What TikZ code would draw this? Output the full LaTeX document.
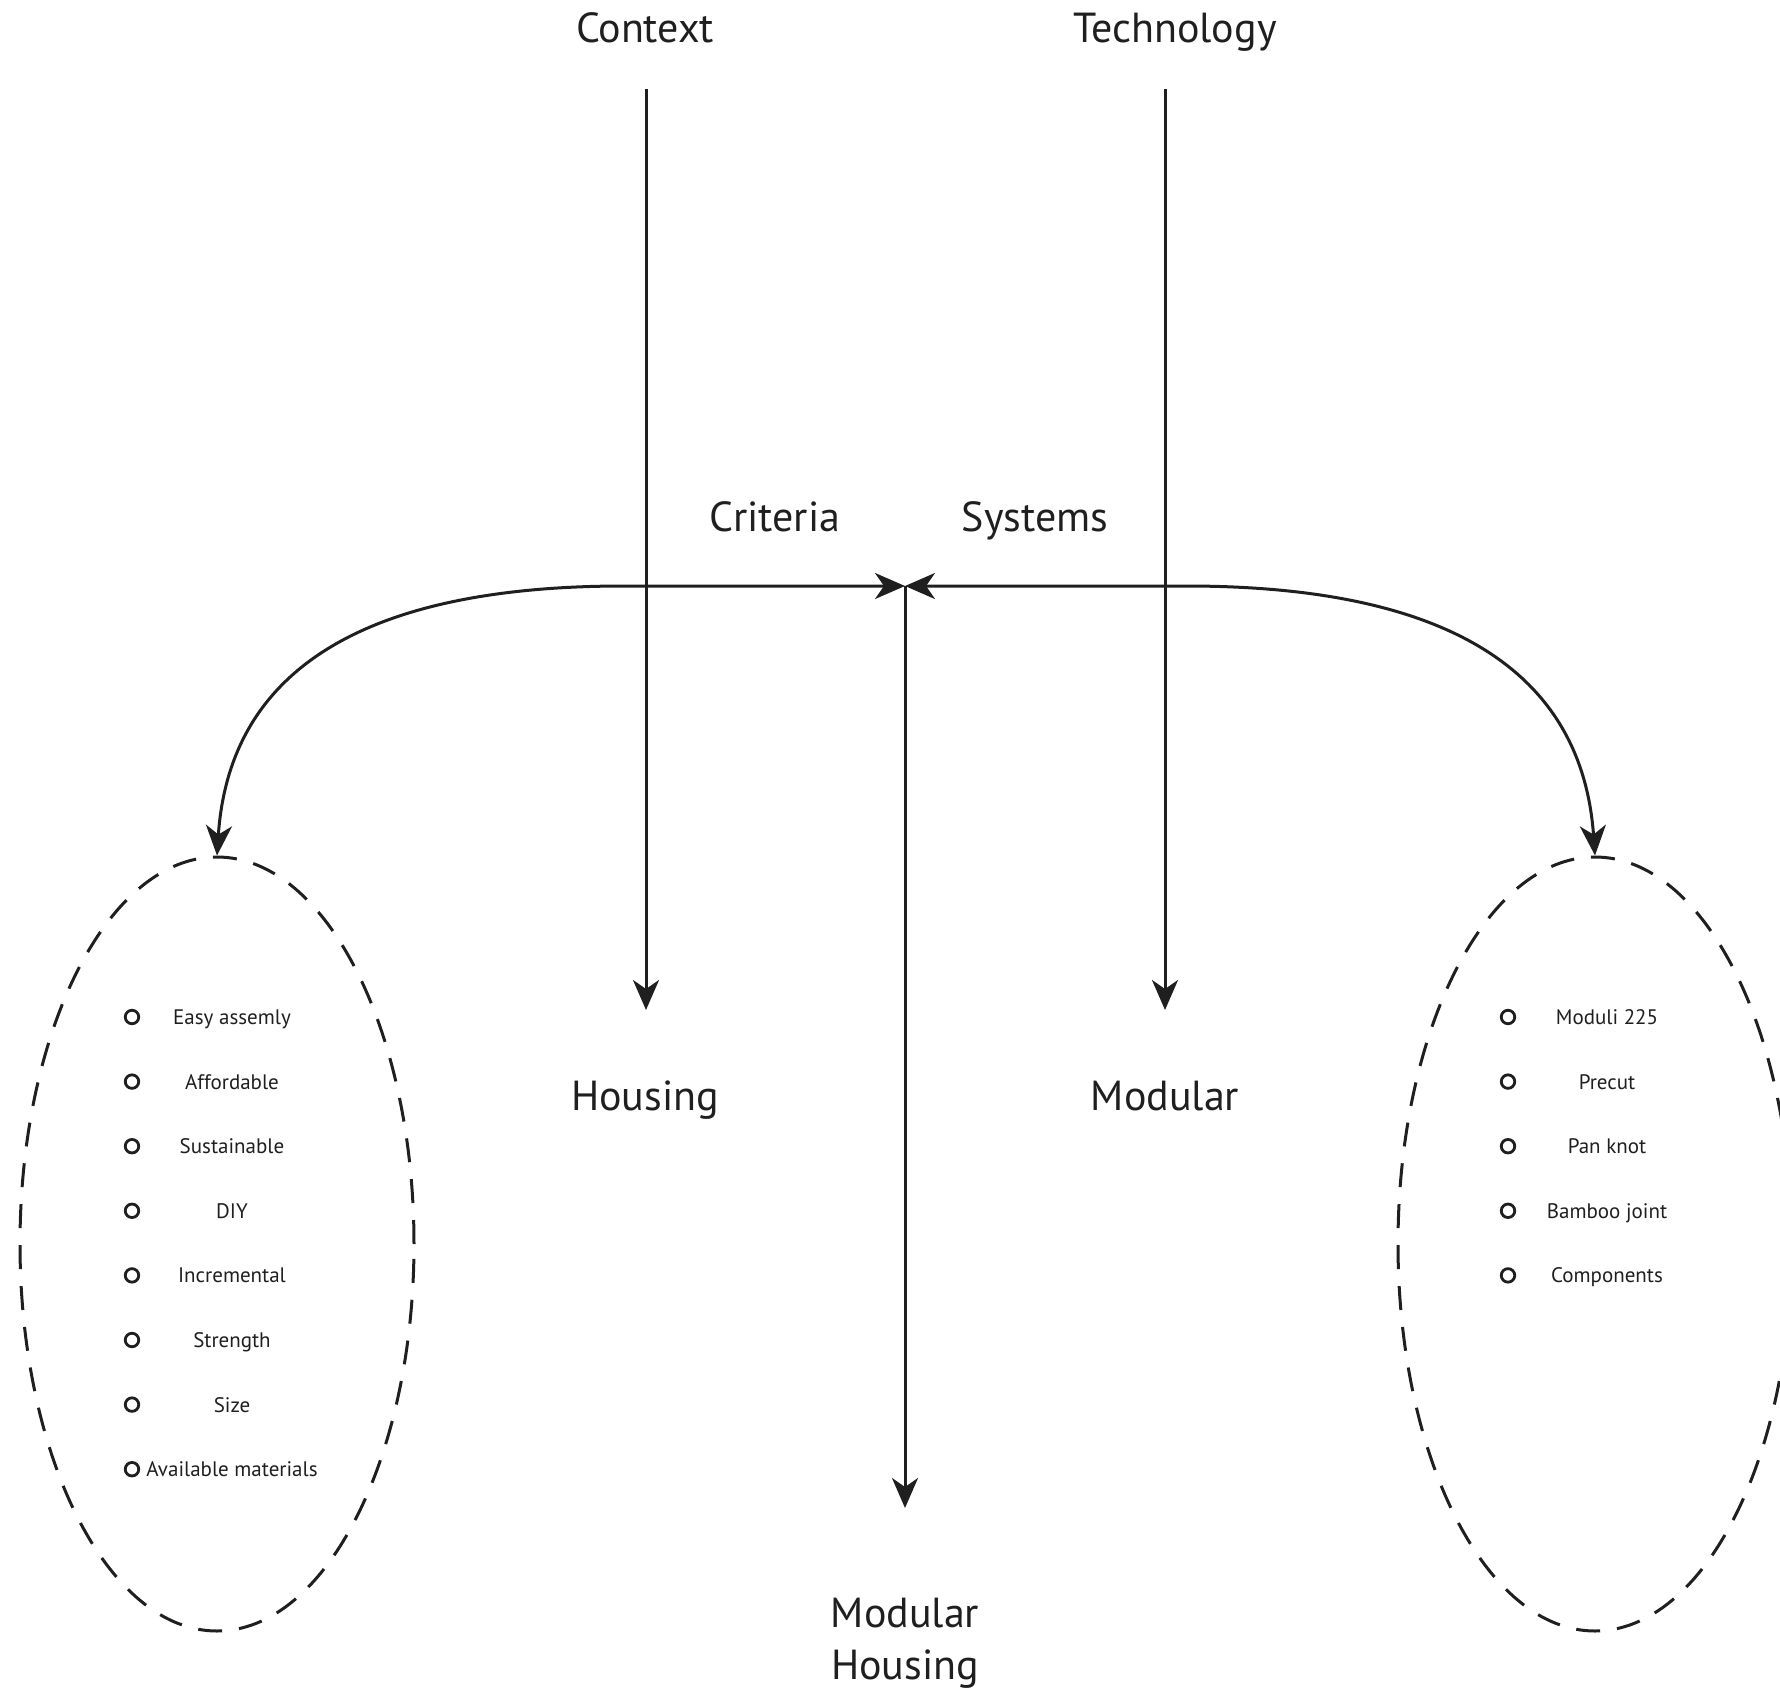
\documentclass[tikz,border=0pt]{standalone}
\usepackage{fontspec}
\setmainfont{PT Sans}
\usetikzlibrary{arrows.meta,shapes.geometric}
\begin{document}
\begin{tikzpicture}[x=1pt,y=-1pt,
  line width=3pt, color={black!88},
  arr/.style={-{Stealth[length=30pt,width=26pt,inset=9pt]}},
  biarr/.style={{Stealth[length=30pt,width=26pt,inset=9pt]}-{Stealth[length=30pt,width=26pt,inset=9pt]}},
  big/.style={font=\fontsize{42}{52}\selectfont, inner sep=0pt, anchor=base},
  small/.style={font=\fontsize{21}{25}\selectfont, inner sep=0pt, anchor=base},
  bul/.style={circle, draw, line width=2.8pt, minimum size=13.5pt, inner sep=0pt},
  oval/.style={ellipse, draw, dash pattern=on 24pt off 17pt, minimum width=394pt, minimum height=774pt, inner sep=0pt}]
\useasboundingbox (0,0) rectangle (1780,1688);
\clip (0,0) rectangle (1780,1688);

% titles (base anchored)
\node[big] (context) at (645,43) {Context};
\node[big] (tech) at (1175,43) {Technology};
\node[big] (criteria) at (775,531) {Criteria};
\node[big] (systems) at (1035,531) {Systems};
\node[big] (housing) at (645,1110) {Housing};
\node[big] (modular) at (1165,1110) {Modular};
\node[big] (mh1) at (905,1627) {Modular};
\node[big] (mh2) at (905,1679) {Housing};

% coordinates
\coordinate (ctop) at (646,89);
\coordinate (cbot) at (646,1010);
\coordinate (ttop) at (1165,89);
\coordinate (tbot) at (1165,1010);
\coordinate (hub) at (905,586);
\coordinate (hubdown) at (905,1508);
\coordinate (lstart) at (624,586);
\coordinate (rstart) at (1186,586);

% ellipses
\node[oval] (lell) at (217,1244) {};
\node[oval] (rell) at (1595,1244) {};

% connectors
\draw[arr] (ctop) -- (cbot);
\draw[arr] (ttop) -- (tbot);
\draw[biarr] (lell.north) .. controls (230,660) and (380,586) .. (lstart) -- (hub);
\draw[biarr] (rell.north) .. controls (1581,660) and (1430,586) .. (rstart) -- (hub);
\draw[arr] (hub) -- (hubdown);

% left list
\foreach \t [count=\i] in {Easy assemly, Affordable, Sustainable, DIY, Incremental, Strength, Size, Available materials}{
  \node[bul] (lb\i) at (132, {1017+64.6*(\i-1)}) {};
  \node[small] (lt\i) at (232, {1024.5+64.6*(\i-1)}) {\t};
}
% right list
\foreach \t [count=\i] in {Moduli 225, Precut, Pan knot, Bamboo joint, Components}{
  \node[bul] (rb\i) at (1508, {1017+64.6*(\i-1)}) {};
  \node[small] (rt\i) at (1607, {1024.5+64.6*(\i-1)}) {\t};
}
\end{tikzpicture}
\end{document}
